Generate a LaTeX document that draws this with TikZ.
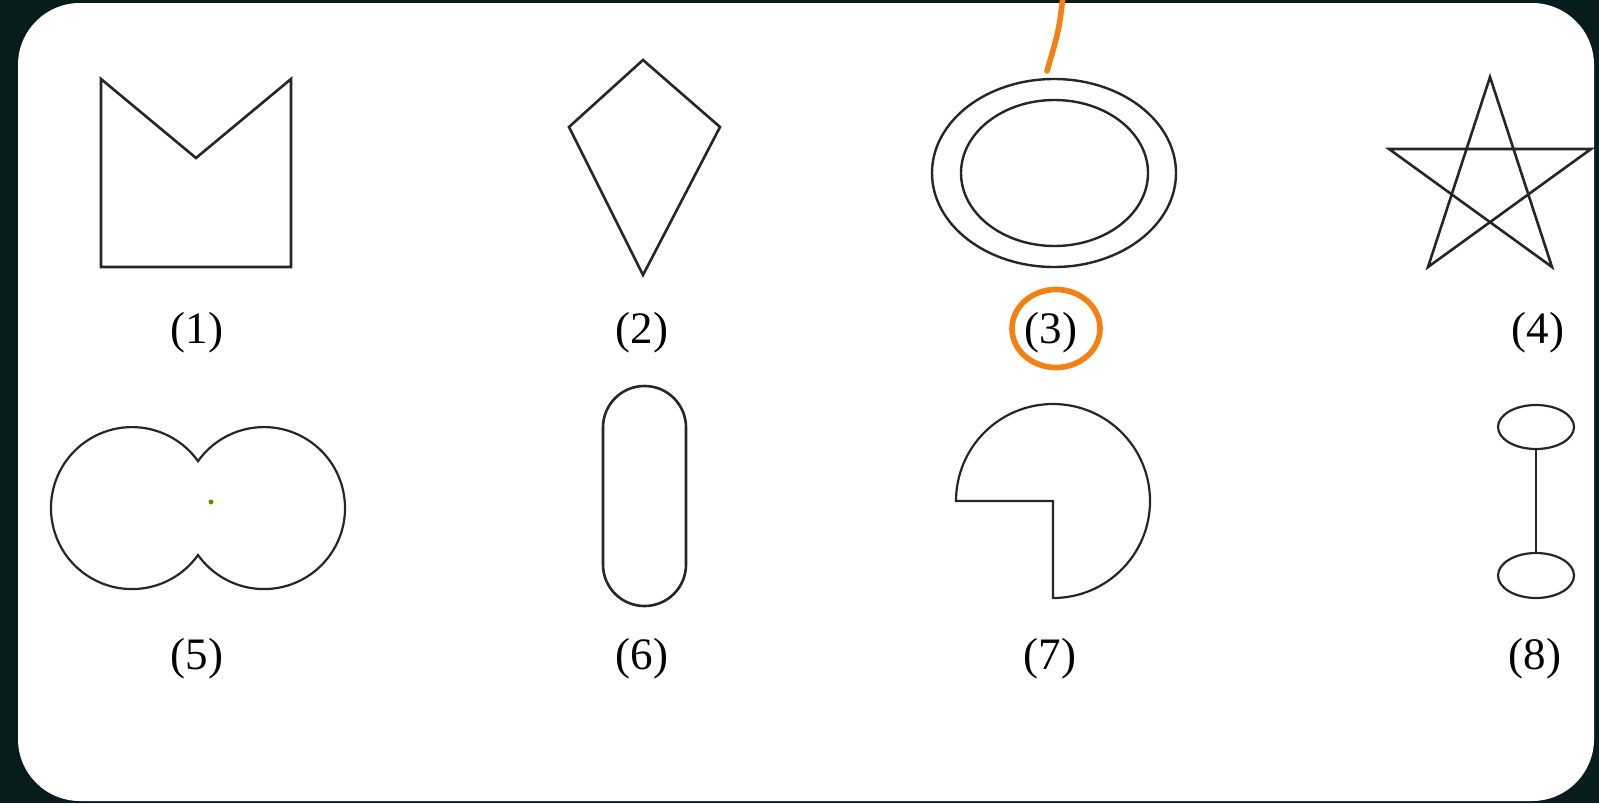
\documentclass[tikz,border=0pt]{standalone}
\usepackage{fontspec}
\setmainfont{Liberation Serif}
\definecolor{screenbg}{RGB}{7,28,28}
\definecolor{penorange}{RGB}{243,128,18}
\definecolor{dotolive}{RGB}{130,130,0}
\tikzset{
  figline/.style={black!85,line width=1.3pt},
  figlabel/.style={font=\fontsize{22.5}{27}\selectfont,inner sep=0pt},
  pen/.style={penorange,line width=2.8pt,line cap=round,line join=round}
}
\begin{document}
\begin{tikzpicture}[x=0.5pt,y=-0.5pt]
  \useasboundingbox (0,0) rectangle (1599,803);
  \fill[screenbg] (0,0) rectangle (1599,803);
  \fill[white,rounded corners=31pt] (18,3) rectangle (1594,801);
  % (1) notched square
  \coordinate (A) at (101,267);
  \coordinate (B) at (101,79);
  \coordinate (C) at (196,158);
  \coordinate (D) at (291,79);
  \coordinate (E) at (291,267);
  \draw[figline] (A)--(B)--(C)--(D)--(E)--cycle;
  % (2) kite
  \coordinate (K1) at (643,60);
  \coordinate (K2) at (720,127);
  \coordinate (K3) at (643,275);
  \coordinate (K4) at (569,127);
  \draw[figline] (K1)--(K2)--(K3)--(K4)--cycle;
  % (3) ring
  \draw[figline,line width=1.2pt] (1054,173) ellipse [x radius=122, y radius=94];
  \draw[figline,line width=1.2pt] (1054.5,173) ellipse [x radius=93.5, y radius=73];
  % (4) star
  \coordinate (S1) at (1490,77);
  \coordinate (S2) at (1591,149);
  \coordinate (S3) at (1552,267);
  \coordinate (S4) at (1428,267);
  \coordinate (S5) at (1389,149);
  \draw[figline] (S1)--(S4)--(S2)--(S5)--(S3)--cycle;
  % (5) two circles
  \draw[figline,line width=1.1pt] (198,555) arc[start angle=35.4, end angle=324.6, radius=81]
    arc[start angle=215.4, end angle=504.6, radius=81] -- cycle;
  \fill[dotolive] (211,502) circle (2.5);
  % (6) stadium
  \draw[figline,rounded corners=20.7pt] (603,386) rectangle (686,606);
  % (7) three quarter disc
  \coordinate (P) at (1053,501);
  \draw[figline,line width=1.1pt] (P) -- ++(-97,0) arc[start angle=180, end angle=450, radius=97] -- cycle;
  % (8) dumbbell
  \draw[figline,line width=1.1pt] (1536,427) ellipse [x radius=38, y radius=22];
  \draw[figline,line width=1.1pt] (1536,575.5) ellipse [x radius=38, y radius=22.5];
  \draw[figline,line width=1.1pt] (1536,449) -- (1536,553);
  % labels
  \node[figlabel] (lbl1) at (197,333) {(1)};
  \node[figlabel] (lbl2) at (642,333) {(2)};
  \node[figlabel] (lbl3) at (1051,333) {(3)};
  \node[figlabel] (lbl4) at (1538,333) {(4)};
  \node[figlabel] (lbl5) at (197,659) {(5)};
  \node[figlabel] (lbl6) at (642,659) {(6)};
  \node[figlabel] (lbl7) at (1050,659) {(7)};
  \node[figlabel] (lbl8) at (1535,659) {(8)};
  % orange marks
  \draw[pen] (1063,-4) .. controls (1059,30) .. (1047,71);
  \draw[pen] (1056,328.5) ellipse [x radius=44, y radius=39];
\end{tikzpicture}
\end{document}
